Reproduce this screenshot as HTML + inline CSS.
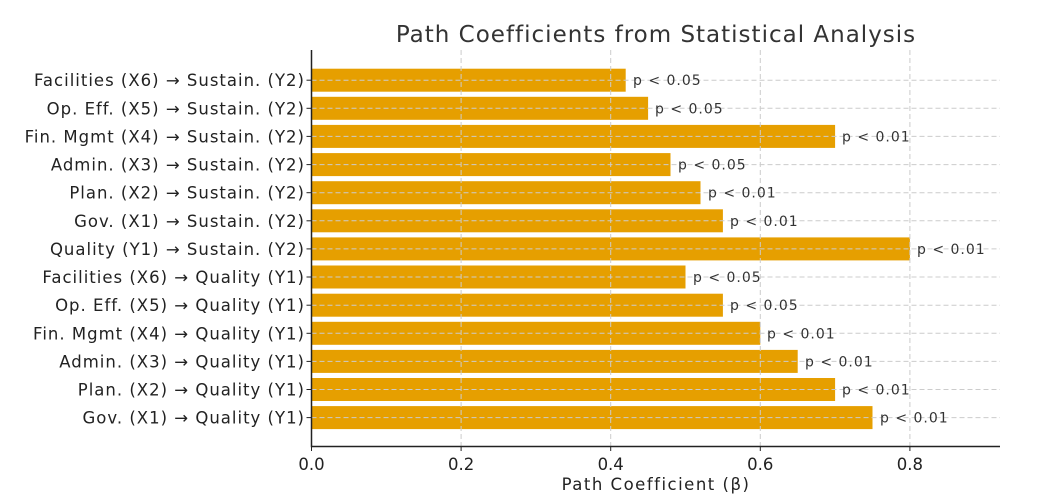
<!DOCTYPE html>
<html><head><meta charset="utf-8"><style>body{margin:0;background:#fff}svg{display:block}text{font-family:"DejaVu Sans","Liberation Sans",sans-serif}</style></head><body>
<svg width="1041" height="501" xmlns="http://www.w3.org/2000/svg">
<rect width="1041" height="501" fill="#fff"/>
<text x="656" y="42" font-size="23" fill="#333" text-anchor="middle" letter-spacing="1">Path Coefficients from Statistical Analysis</text>
<g fill="#E69F00">
<rect x="311.5" y="68.7" width="314.2" height="23"/>
<rect x="311.5" y="96.8" width="336.6" height="23"/>
<rect x="311.5" y="124.9" width="523.6" height="23"/>
<rect x="311.5" y="153.1" width="359" height="23"/>
<rect x="311.5" y="181.2" width="389" height="23"/>
<rect x="311.5" y="209.3" width="411.4" height="23"/>
<rect x="311.5" y="237.4" width="598.4" height="23"/>
<rect x="311.5" y="265.5" width="374" height="23"/>
<rect x="311.5" y="293.7" width="411.4" height="23"/>
<rect x="311.5" y="321.8" width="448.8" height="23"/>
<rect x="311.5" y="349.9" width="486.2" height="23"/>
<rect x="311.5" y="378" width="523.6" height="23"/>
<rect x="311.5" y="406.1" width="561" height="23"/>
</g>
<g stroke="#ccc" stroke-dasharray="5,3" stroke-width="1">
<line x1="461.1" y1="50" x2="461.1" y2="446"/>
<line x1="610.7" y1="50" x2="610.7" y2="446"/>
<line x1="760.3" y1="50" x2="760.3" y2="446"/>
<line x1="909.9" y1="50" x2="909.9" y2="446"/>
<line x1="311.5" y1="80.2" x2="1000" y2="80.2"/>
<line x1="311.5" y1="108.3" x2="1000" y2="108.3"/>
<line x1="311.5" y1="136.4" x2="1000" y2="136.4"/>
<line x1="311.5" y1="164.6" x2="1000" y2="164.6"/>
<line x1="311.5" y1="192.7" x2="1000" y2="192.7"/>
<line x1="311.5" y1="220.8" x2="1000" y2="220.8"/>
<line x1="311.5" y1="248.9" x2="1000" y2="248.9"/>
<line x1="311.5" y1="277" x2="1000" y2="277"/>
<line x1="311.5" y1="305.2" x2="1000" y2="305.2"/>
<line x1="311.5" y1="333.3" x2="1000" y2="333.3"/>
<line x1="311.5" y1="361.4" x2="1000" y2="361.4"/>
<line x1="311.5" y1="389.5" x2="1000" y2="389.5"/>
<line x1="311.5" y1="417.6" x2="1000" y2="417.6"/>
</g>
<g font-size="14" fill="#333" letter-spacing="1">
<text x="633" y="85.2">p &lt; 0.05</text>
<text x="655" y="113.3">p &lt; 0.05</text>
<text x="842" y="141.4">p &lt; 0.01</text>
<text x="678" y="169.6">p &lt; 0.05</text>
<text x="708" y="197.7">p &lt; 0.01</text>
<text x="730" y="225.8">p &lt; 0.01</text>
<text x="917" y="253.9">p &lt; 0.01</text>
<text x="693" y="282">p &lt; 0.05</text>
<text x="730" y="310.2">p &lt; 0.05</text>
<text x="767" y="338.3">p &lt; 0.01</text>
<text x="805" y="366.4">p &lt; 0.01</text>
<text x="842" y="394.5">p &lt; 0.01</text>
<text x="880" y="422.6">p &lt; 0.01</text>
</g>
<g font-size="16.5" fill="#222" text-anchor="end" letter-spacing="1">
<text x="305" y="86.2">Facilities (X6) → Sustain. (Y2)</text>
<text x="305" y="114.3">Op. Eff. (X5) → Sustain. (Y2)</text>
<text x="305" y="142.4">Fin. Mgmt (X4) → Sustain. (Y2)</text>
<text x="305" y="170.6">Admin. (X3) → Sustain. (Y2)</text>
<text x="305" y="198.7">Plan. (X2) → Sustain. (Y2)</text>
<text x="305" y="226.8">Gov. (X1) → Sustain. (Y2)</text>
<text x="305" y="254.9">Quality (Y1) → Sustain. (Y2)</text>
<text x="305" y="283">Facilities (X6) → Quality (Y1)</text>
<text x="305" y="311.2">Op. Eff. (X5) → Quality (Y1)</text>
<text x="305" y="339.3">Fin. Mgmt (X4) → Quality (Y1)</text>
<text x="305" y="367.4">Admin. (X3) → Quality (Y1)</text>
<text x="305" y="395.5">Plan. (X2) → Quality (Y1)</text>
<text x="305" y="423.6">Gov. (X1) → Quality (Y1)</text>
</g>
<g stroke="#222">
<line x1="306.5" y1="80.2" x2="311.5" y2="80.2"/>
<line x1="306.5" y1="108.3" x2="311.5" y2="108.3"/>
<line x1="306.5" y1="136.4" x2="311.5" y2="136.4"/>
<line x1="306.5" y1="164.6" x2="311.5" y2="164.6"/>
<line x1="306.5" y1="192.7" x2="311.5" y2="192.7"/>
<line x1="306.5" y1="220.8" x2="311.5" y2="220.8"/>
<line x1="306.5" y1="248.9" x2="311.5" y2="248.9"/>
<line x1="306.5" y1="277" x2="311.5" y2="277"/>
<line x1="306.5" y1="305.2" x2="311.5" y2="305.2"/>
<line x1="306.5" y1="333.3" x2="311.5" y2="333.3"/>
<line x1="306.5" y1="361.4" x2="311.5" y2="361.4"/>
<line x1="306.5" y1="389.5" x2="311.5" y2="389.5"/>
<line x1="306.5" y1="417.6" x2="311.5" y2="417.6"/>
<line x1="311.5" y1="446" x2="311.5" y2="451"/>
<line x1="461.1" y1="446" x2="461.1" y2="451"/>
<line x1="610.7" y1="446" x2="610.7" y2="451"/>
<line x1="760.3" y1="446" x2="760.3" y2="451"/>
<line x1="909.9" y1="446" x2="909.9" y2="451"/>
<line x1="311.5" y1="50" x2="311.5" y2="447.2" stroke-width="1.5"/>
<line x1="311.5" y1="446.5" x2="1000" y2="446.5" stroke-width="1.5"/>
</g>
<g font-size="16.5" fill="#222" text-anchor="middle">
<text x="311.5" y="470">0.0</text>
<text x="461.1" y="470">0.2</text>
<text x="610.7" y="470">0.4</text>
<text x="760.3" y="470">0.6</text>
<text x="909.9" y="470">0.8</text>
<text x="656" y="490" letter-spacing="1.5">Path Coefficient (β)</text>
</g>
</svg>
</body></html>
